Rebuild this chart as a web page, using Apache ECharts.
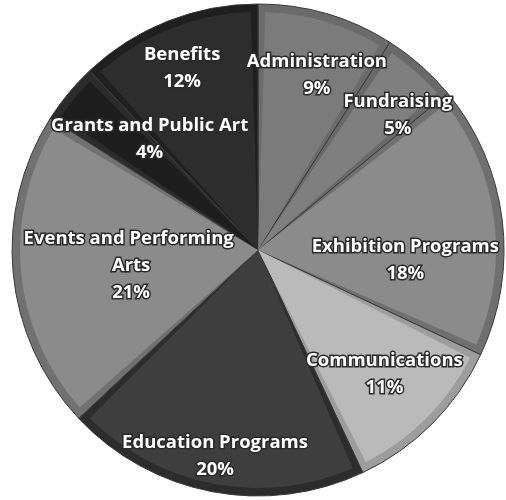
<!DOCTYPE html>
<html>
<head>
<meta charset="utf-8">
<script src="https://cdn.jsdelivr.net/npm/echarts@6/dist/echarts.min.js"></script>
<style>
	html, body { margin: 0; padding: 0; background: #fff; }
	#main { width: 506px; height: 500px; }
</style>
</head>
<body>
<div id="main"></div>
<script>
// 预算分类(顺时针, 从正上方开始)
var categories = ['Administration', 'Fundraising', 'Exhibition Programs', 'Communications',
	'Education Programs', 'Events and Performing Arts', 'Grants and Public Art', 'Benefits'];
// 百分比
var shares = [9, 5, 18, 11, 20, 21, 4, 12];

;(function(){
	// 内部填充色和边缘色(灰度斜面效果)
	var fillColors = ['#7b7b7b', '#7f7f7f', '#8b8b8b', '#bababa', '#3e3e3e', '#8b8b8b', '#1d1d1d', '#2d2d2d'];
	var bandColors = ['#6b6b6b', '#696969', '#707070', '#9d9d9d', '#2c2c2c', '#717171', '#2b2b2b', '#1f1f1f'];
	// 标签位置: [半径比例, 角度微调]
	var labelSpots = [[0.75, 2.4], [0.79, 4.6], [0.6, 11], [0.72, -0.5], [0.855, 1], [0.52, -1.6], [0.63, 6], [0.8, -1.1]];

	var R = 246;
	var band = 8;

	var chartDom = document.getElementById('main');
	var myChart = echarts.init(chartDom);

	var total = shares.reduce(function(a, b) { return a + b; }, 0);

	var outerData = categories.map(function(name, i) {
		return { name: name, value: shares[i], itemStyle: { color: bandColors[i] } };
	});
	var innerData = categories.map(function(name, i) {
		return { name: name, value: shares[i], itemStyle: { color: fillColors[i] } };
	});

	var placeLabel = function(params) {
		var i = params.dataIndex;
		var before = 0;
		for (var k = 0; k < i; k++) before += shares[k];
		var mid = (before + shares[i] / 2) / total * 360 + labelSpots[i][1];
		var a = mid * Math.PI / 180;
		var cx = myChart.getWidth() * 0.51;
		var cy = myChart.getHeight() * 0.5;
		var r = labelSpots[i][0] * R;
		return {
			x: cx + r * Math.sin(a),
			y: cy - r * Math.cos(a),
			align: 'center',
			verticalAlign: 'middle'
		};
	};

	var option = {
		backgroundColor: '#fff',
		animation: false,
		series: [
			{
				type: 'pie',
				silent: true,
				center: ['51%', '50%'],
				radius: [0, R],
				startAngle: 90,
				clockwise: true,
				label: { show: false },
				labelLine: { show: false },
				itemStyle: { borderColor: '#3a3a3a', borderWidth: 1 },
				data: outerData
			},
			{
				type: 'pie',
				silent: true,
				center: ['51%', '50%'],
				radius: [0, R - band],
				startAngle: 90,
				clockwise: true,
				padAngle: 3.5,
				avoidLabelOverlap: false,
				label: {
					show: true,
					position: 'inside',
					formatter: function(p) { return p.name + '\n' + p.value + '%'; },
					color: '#fff',
					fontFamily: 'Open Sans',
					fontWeight: 'bold',
					fontSize: 18.5,
					lineHeight: 27,
					width: 236,
					overflow: 'break',
					textBorderColor: '#2a2a2a',
					textBorderWidth: 3
				},
				labelLayout: placeLabel,
				labelLine: { show: false },
				data: innerData
			}
		]
	};
	option && myChart.setOption(option);
})();
</script>
</body>
</html>
